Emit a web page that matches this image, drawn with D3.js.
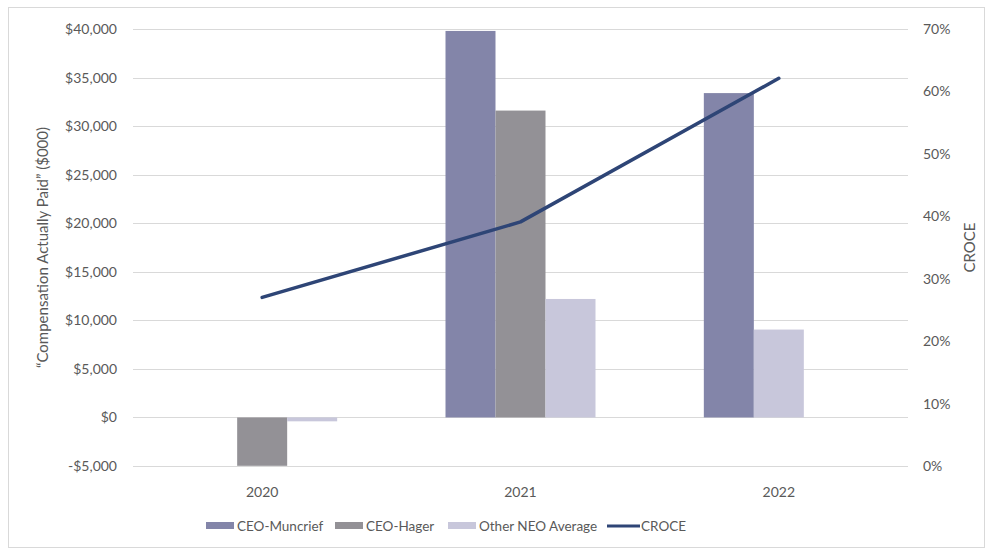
<!DOCTYPE html>
<html>
<head>
<meta charset="utf-8">
<script src="https://cdn.jsdelivr.net/npm/d3@7"></script>
<style>
  html, body { margin: 0; padding: 0; background: #fff; }
  svg text { font-family: "Lato", "Liberation Sans", sans-serif; fill: #595959; }
</style>
</head>
<body>
<svg id="chart" width="992" height="550"></svg>
<script>
// Fiscal years shown on the category axis
const years = ["2020", "2021", "2022"];

// Bar series, in legend order
const seriesNames = ["CEO-Muncrief", "CEO-Hager", "Other NEO Average"];
const seriesColors = ["#8385A9", "#939196", "#C8C7DB"];

// "Compensation Actually Paid" ($000) per series, per year (null = no bar)
const muncriefCAP = [null, 39800, 33400];
const hagerCAP = [-4980, 31600, null];
const otherNeoCAP = [-400, 12200, 9050];

// Order of the bar slots within each year's group
const slotOrder = [
  ["CEO-Muncrief", "CEO-Hager", "Other NEO Average"],
  ["CEO-Muncrief", "CEO-Hager", "Other NEO Average"],
  ["CEO-Muncrief", "Other NEO Average", "CEO-Hager"]
];

// CROCE (%) per year
const croce = [27.0, 39.1, 62.1];

// Axis ticks
const leftTicks = [-5000, 0, 5000, 10000, 15000, 20000, 25000, 30000, 35000, 40000];
const rightTicks = [0, 10, 20, 30, 40, 50, 60, 70];

const svg = d3.select("#chart");
const plot = { left: 133, right: 908, top: 29, bottom: 466 };

// Chart frame
svg.append("rect")
  .attr("x", 8.5).attr("y", 7.5).attr("width", 976).attr("height", 540)
  .attr("fill", "#fff").attr("stroke", "#D9D9D9").attr("stroke-width", 1);

const x = d3.scaleBand().domain(years).range([plot.left, plot.right]).paddingInner(0).paddingOuter(0);
const yLeft = d3.scaleLinear().domain([-5000, 40000]).range([plot.bottom, plot.top]);
const yRight = d3.scaleLinear().domain([0, 70]).range([plot.bottom, plot.top]);

// Gridlines
svg.append("g").selectAll("line").data(leftTicks).join("line")
  .attr("x1", plot.left).attr("x2", plot.right)
  .attr("y1", d => Math.round(yLeft(d)) + 0.5).attr("y2", d => Math.round(yLeft(d)) + 0.5)
  .attr("stroke", "#D9D9D9").attr("stroke-width", 1);

// Left axis labels
const fmtMoney = v => (v < 0 ? "-$" : "$") + d3.format(",")(Math.abs(v));
const leftAxis = d3.axisLeft(yLeft).tickValues(leftTicks).tickFormat(fmtMoney).tickSize(0).tickPadding(16);
const gL = svg.append("g").attr("transform", `translate(${plot.left},0)`).call(leftAxis);
gL.select(".domain").remove();
gL.selectAll("text").attr("font-size", 14).attr("fill", "#595959");

// Right axis labels
const rightAxis = d3.axisRight(yRight).tickValues(rightTicks).tickFormat(d => d + "%").tickSize(0).tickPadding(15);
const gR = svg.append("g").attr("transform", `translate(${plot.right},0)`).call(rightAxis);
gR.select(".domain").remove();
gR.selectAll("text").attr("font-size", 14).attr("fill", "#595959");

// Bars
const seriesValues = [muncriefCAP, hagerCAP, otherNeoCAP];
const barWidth = 50;
const bars = [];
years.forEach((yr, i) => {
  const sub = d3.scaleBand().domain(slotOrder[i])
    .range([x(yr) + x.bandwidth() / 2 - 1.5 * barWidth, x(yr) + x.bandwidth() / 2 + 1.5 * barWidth]);
  seriesNames.forEach((s, j) => {
    const v = seriesValues[j][i];
    if (v === null) return;
    bars.push({ year: yr, series: s, value: v, x: sub(s), w: sub.bandwidth(), color: seriesColors[j] });
  });
});
svg.append("g").selectAll("rect").data(bars).join("rect")
  .attr("x", d => d.x)
  .attr("width", d => d.w)
  .attr("y", d => Math.min(yLeft(d.value), yLeft(0)))
  .attr("height", d => Math.abs(yLeft(d.value) - yLeft(0)))
  .attr("fill", d => d.color);

// CROCE line
const line = d3.line()
  .x((d, i) => x(years[i]) + x.bandwidth() / 2)
  .y(d => yRight(d));
svg.append("path").datum(croce)
  .attr("d", line).attr("fill", "none")
  .attr("stroke", "#2E4576").attr("stroke-width", 3.5)
  .attr("stroke-linecap", "round").attr("stroke-linejoin", "round");

// Category labels
svg.append("g").selectAll("text").data(years).join("text")
  .attr("x", d => x(d) + x.bandwidth() / 2).attr("y", 497)
  .attr("text-anchor", "middle").attr("font-size", 14).text(d => d);

// Axis titles
svg.append("text")
  .attr("transform", `translate(48,${(plot.top + plot.bottom) / 2}) rotate(-90)`)
  .attr("text-anchor", "middle").attr("font-size", 15)
  .text("\u201CCompensation Actually Paid\u201D ($000)");
svg.append("text")
  .attr("transform", `translate(975,${(plot.top + plot.bottom) / 2}) rotate(-90)`)
  .attr("text-anchor", "middle").attr("font-size", 15)
  .text("CROCE");

// Legend
const legendItems = [
  { name: "CEO-Muncrief", color: seriesColors[0], type: "bar", x: 206 },
  { name: "CEO-Hager", color: seriesColors[1], type: "bar", x: 335 },
  { name: "Other NEO Average", color: seriesColors[2], type: "bar", x: 448 },
  { name: "CROCE", color: "#2E4576", type: "line", x: 607 }
];
const lg = svg.append("g").selectAll("g").data(legendItems).join("g")
  .attr("transform", d => `translate(${d.x},526)`);
lg.filter(d => d.type === "bar").append("rect")
  .attr("x", 0).attr("y", -4).attr("width", 28).attr("height", 7).attr("fill", d => d.color);
lg.filter(d => d.type === "line").append("line")
  .attr("x1", 0).attr("x2", 33).attr("y1", 0).attr("y2", 0)
  .attr("stroke", d => d.color).attr("stroke-width", 3);
lg.append("text")
  .attr("x", d => d.type === "bar" ? 31 : 34).attr("y", 5)
  .attr("font-size", 13.5).text(d => d.name);
</script>
</body>
</html>
